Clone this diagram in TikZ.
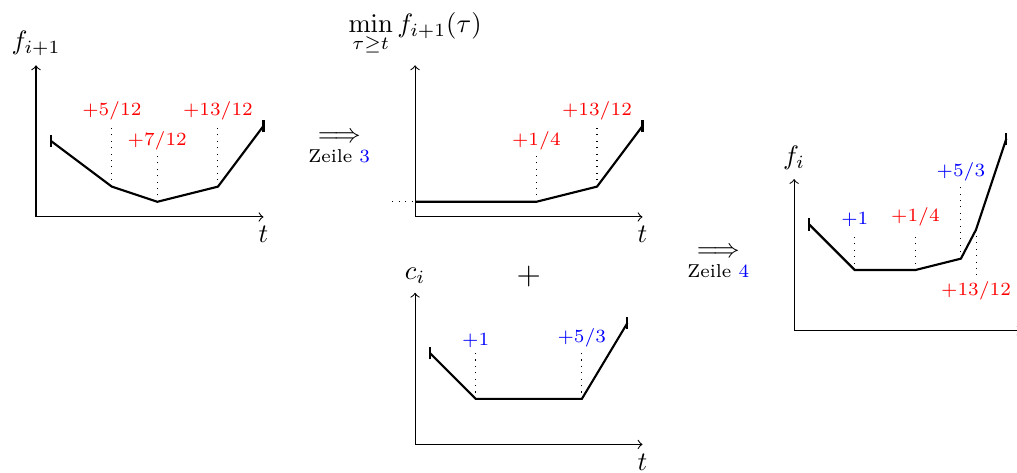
\documentclass[tikz,border=0pt]{standalone}
\usepackage{tikz}
\usetikzlibrary{positioning}
\usepackage{amsmath,amssymb}
\usepackage{xcolor}

% short vertical stroke at the ends of a graph
\newcommand{\graphtick}[1]{\draw[thick] (#1) ++(0,-0.08) -- ++(0,0.16);}

\begin{document}
\begin{tikzpicture}[node distance=0pt,
    axisline/.style={->},
    graph/.style={thick},
    guide/.style={dotted},
    delta/.style={font=\scriptsize,inner sep=2pt},
    stepnote/.style={font=\scriptsize,inner sep=1pt}]
    \useasboundingbox (-0.475,-3.365) rectangle (12.94,2.862);

    % f_{i+1}
    \draw[axisline] (0,0) -- (3,0) node[below] (t1) {$t$};
    \draw[axisline] (0,0) -- (0,2) node[above] (f1) {$f_{i+1}$};
    \draw[graph] (0.2,1) coordinate (a0) -- (1,0.4) coordinate (a1) -- (1.6,0.2) coordinate (a2)
        -- (2.4,0.4) coordinate (a3) -- (3,1.2) coordinate (a4);
    \graphtick{a0} \graphtick{a4}
    \draw[guide] (a1) -- (1,1.2) node[above,delta,red] (d1) {$+5/12$};
    \draw[guide] (a2) -- (1.6,0.8) node[above,delta,red] (d2) {$+7/12$};
    \draw[guide] (a3) -- (2.4,1.2) node[above,delta,red] (d3) {$+13/12$};

    \node (imp3) at (4,1.05) {$\Longrightarrow$};
    \node[stepnote, below=-2pt of imp3] (z3) {Zeile \textcolor{blue}{3}};

    % min over tau >= t
    \begin{scope}[shift={(5,0)}]
      \draw[axisline] (0,0) -- (3,0) node[below] (t2) {$t$};
      \draw[axisline] (0,0) -- (0,2) node[above] (m2) {$\displaystyle\min_{\tau\geq t} f_{i+1}(\tau)$};
      \draw[guide] (-0.3,0.2) -- (0,0.2);
      \draw[graph] (0,0.2) coordinate (b0) -- (1.6,0.2) coordinate (b1) -- (2.4,0.4) coordinate (b2)
          -- (3,1.2) coordinate (b3);
      \graphtick{b3}
      \draw[guide] (b1) -- (1.6,0.8) node[above,delta,red] (e1) {$+1/4$};
      \draw[guide] (b2) -- (2.4,1.2) node[above,delta,red] (e2) {$+13/12$};
    \end{scope}

    \node[font=\large] (plus) at (6.5,-0.78) {$+$};

    % c_i
    \begin{scope}[shift={(5,-3)}]
      \draw[axisline] (0,0) -- (3,0) node[below] (t3) {$t$};
      \draw[axisline] (0,0) -- (0,2) node[above] (c3) {$c_i$};
      \draw[graph] (0.2,1.2) coordinate (c0) -- (0.8,0.6) coordinate (c1) -- (2.2,0.6) coordinate (c2)
          -- (2.8,1.6) coordinate (c4);
      \graphtick{c0} \graphtick{c4}
      \draw[guide] (c1) -- (0.8,1.2) node[above,delta,blue] (g1) {$+1$};
      \draw[guide] (c2) -- (2.2,1.2) node[above,delta,blue] (g2) {$+5/3$};
    \end{scope}

    \node (imp4) at (9,-0.47) {$\Longrightarrow$};
    \node[stepnote, below=-2pt of imp4] (z4) {Zeile \textcolor{blue}{4}};

    % f_i
    \begin{scope}[shift={(10,-1.5)}]
      \draw[axisline] (0,0) -- (3,0) node[below] (t4) {$t$};
      \draw[axisline] (0,0) -- (0,2) node[above] (f4) {$f_i$};
      \draw[graph] (0.2,1.4) coordinate (h0) -- (0.8,0.8) coordinate (h1) -- (1.6,0.8) coordinate (h2)
          -- (2.2,0.95) coordinate (h3) -- (2.4,1.3333) coordinate (h4) -- (2.8,2.5333) coordinate (h5);
      \graphtick{h0} \graphtick{h5}
      \draw[guide] (h1) -- (0.8,1.3) node[above,delta,blue] (k1) {$+1$};
      \draw[guide] (h2) -- (1.6,1.3) node[above,delta,red] (k2) {$+1/4$};
      \draw[guide] (h3) -- (2.2,1.9) node[above,delta,blue] (k3) {$+5/3$};
      \draw[guide] (h4) -- (2.4,0.72) node[below,delta,red] (k4) {$+13/12$};
    \end{scope}
  \end{tikzpicture}
\end{document}
